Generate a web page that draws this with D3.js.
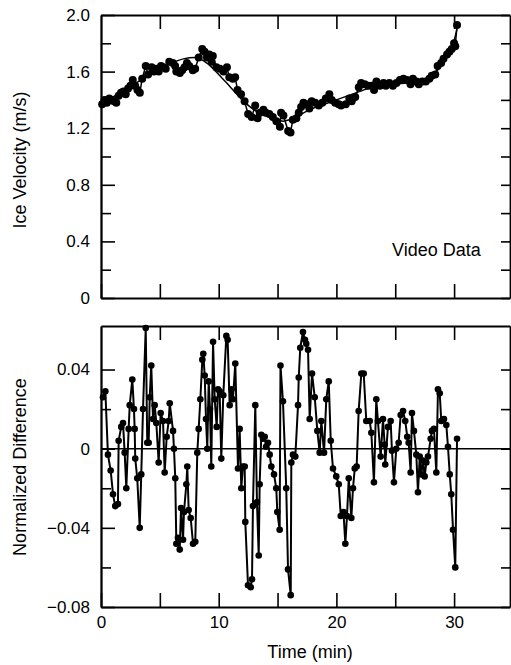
<!DOCTYPE html>
<html>
<head>
<meta charset="utf-8">
<script src="https://cdn.jsdelivr.net/npm/d3@7"></script>
<style>
  html, body { margin: 0; background: #fff; }
  svg { display: block; font-family: "Liberation Sans", Arial, sans-serif; }
</style>
</head>
<body>
<div id="chart"></div>
<script>
// top panel: measured ice velocity (m/s) vs time (min)
const velTime = [0.1, 0.3, 0.5, 0.7, 0.9, 1.1, 1.3, 1.5, 1.7, 1.9, 2.1, 2.3, 2.5, 2.7, 2.9, 3.1, 3.3, 3.5, 3.8, 4.0,
  4.3, 4.5, 4.7, 4.9, 5.1, 5.3, 5.5, 5.8, 6.1, 6.3, 6.4, 6.7, 6.9, 7.1, 7.3, 7.5, 7.8, 8.0, 8.3, 8.6,
  8.8, 9.0, 9.2, 9.4, 9.5, 9.8, 10.1, 10.4, 10.7, 10.9, 11.2, 11.4, 11.6, 11.9, 12.2, 12.5, 12.8, 13.1, 13.3, 13.5,
  13.8, 14.0, 14.3, 14.6, 14.9, 15.2, 15.3, 15.5, 15.9, 16.1, 16.3, 16.6, 16.8, 17.0, 17.2, 17.5, 17.7, 17.9, 18.2, 18.5,
  18.8, 19.1, 19.4, 19.6, 19.9, 20.2, 20.4, 20.8, 21.1, 21.3, 21.6, 21.9, 22.1, 22.4, 22.7, 23.0, 23.2, 23.4, 23.7, 24.0,
  24.2, 24.5, 24.8, 25.1, 25.4, 25.7, 26.0, 26.3, 26.5, 26.8, 27.0, 27.3, 27.6, 27.9, 28.1, 28.4, 28.6, 28.9, 29.1, 29.4,
  29.6, 29.8, 30.0, 30.1, 30.25]
const velValue = [1.37, 1.40, 1.38, 1.41, 1.40, 1.39, 1.38, 1.43, 1.45, 1.46, 1.44, 1.48, 1.50, 1.54, 1.50, 1.47, 1.45, 1.55, 1.64, 1.58,
  1.63, 1.60, 1.62, 1.60, 1.64, 1.63, 1.62, 1.67, 1.66, 1.64, 1.60, 1.59, 1.61, 1.63, 1.66, 1.64, 1.61, 1.62, 1.70, 1.76,
  1.74, 1.70, 1.72, 1.67, 1.71, 1.63, 1.62, 1.60, 1.63, 1.56, 1.55, 1.56, 1.47, 1.44, 1.39, 1.30, 1.28, 1.36, 1.27, 1.31,
  1.33, 1.31, 1.30, 1.28, 1.25, 1.21, 1.31, 1.29, 1.18, 1.17, 1.26, 1.27, 1.31, 1.35, 1.38, 1.37, 1.34, 1.39, 1.38, 1.36,
  1.38, 1.41, 1.44, 1.40, 1.38, 1.37, 1.36, 1.37, 1.41, 1.39, 1.42, 1.49, 1.52, 1.51, 1.50, 1.50, 1.47, 1.53, 1.50, 1.52,
  1.50, 1.52, 1.50, 1.52, 1.54, 1.55, 1.54, 1.51, 1.55, 1.53, 1.51, 1.53, 1.53, 1.55, 1.57, 1.58, 1.64, 1.66, 1.69, 1.72,
  1.74, 1.76, 1.80, 1.78, 1.93]

// smoothed velocity curve
const trendTime = [0, 1, 2, 3, 4, 5, 6, 7, 8, 9, 10, 11, 12, 13, 14, 15, 15.5, 16, 17, 18,
  19, 20, 21, 22, 23, 24, 25, 26, 27, 28, 28.5, 29, 29.5, 30, 30.25]
const trendValue = [1.37, 1.42, 1.47, 1.52, 1.57, 1.62, 1.66, 1.69, 1.70, 1.66, 1.58, 1.49, 1.40, 1.33, 1.29, 1.26, 1.25, 1.26, 1.30, 1.34,
  1.37, 1.40, 1.43, 1.46, 1.49, 1.50, 1.51, 1.52, 1.53, 1.56, 1.60, 1.65, 1.72, 1.82, 1.90]

// bottom panel: normalized difference
const diffTime = [0.17, 0.37, 0.59, 0.82, 1.02, 1.21, 1.44, 1.50, 1.72, 1.87, 2.01, 2.15, 2.35, 2.44, 2.66, 2.80, 2.86, 2.91, 3.08, 3.29,
  3.42, 3.57, 3.80, 3.93, 4.05, 4.14, 4.27, 4.42, 4.56, 4.70, 4.90, 5.07, 5.27, 5.41, 5.58, 5.75, 5.84, 6.12, 6.20, 6.31,
  6.40, 6.54, 6.69, 6.80, 6.97, 7.05, 7.25, 7.33, 7.45, 7.62, 7.82, 8.01, 8.18, 8.30, 8.44, 8.61, 8.69, 8.81, 8.92, 9.03,
  9.15, 9.26, 9.37, 9.52, 9.66, 9.83, 9.94, 10.08, 10.22, 10.39, 10.65, 10.76, 10.93, 11.09, 11.21, 11.41, 11.64, 11.78, 11.92, 12.06,
  12.21, 12.26, 12.49, 12.72, 12.83, 12.91, 13.11, 13.25, 13.40, 13.48, 13.62, 13.76, 13.91, 14.02, 14.19, 14.33, 14.47, 14.70, 14.89, 14.98,
  15.18, 15.25, 15.46, 15.74, 15.89, 16.12, 16.17, 16.31, 16.51, 16.74, 16.80, 16.93, 17.16, 17.33, 17.44, 17.59, 17.73, 17.93, 18.16, 18.38,
  18.58, 18.72, 18.95, 19.14, 19.35, 19.52, 19.71, 19.99, 20.20, 20.37, 20.60, 20.76, 20.90, 21.05, 21.27, 21.41, 21.56, 21.72, 21.89, 22.12,
  22.32, 22.54, 22.83, 22.97, 23.19, 23.39, 23.53, 23.76, 23.96, 24.10, 24.15, 24.38, 24.61, 24.72, 24.89, 25.09, 25.29, 25.46, 25.66, 25.85,
  26.02, 26.14, 26.31, 26.42, 26.59, 26.79, 26.93, 27.08, 27.21, 27.36, 27.50, 27.64, 27.78, 28.01, 28.12, 28.29, 28.49, 28.63, 28.78, 28.91,
  29.14, 29.34, 29.48, 29.63, 29.76, 29.91, 30.10, 30.25]
const diffValue = [0.026, 0.029, -0.003, -0.011, -0.023, -0.029, -0.028, 0.004, 0.011, 0.013, -0.002, -0.020, 0.010, 0.022, 0.035, 0.020, 0.010, -0.005, -0.015, -0.040,
  -0.013, 0.020, 0.061, 0.003, 0.003, 0.026, 0.042, 0.015, 0.022, 0.013, -0.007, 0.018, 0.014, -0.012, 0.006, 0.014, 0.023, 0.009, 0.000, -0.015,
  -0.048, -0.045, -0.051, -0.030, -0.046, -0.032, -0.018, -0.009, -0.031, -0.035, -0.048, -0.047, -0.002, 0.010, 0.025, 0.045, 0.048, 0.037, 0.015, 0.000,
  0.034, 0.020, -0.009, 0.054, 0.025, 0.011, 0.030, 0.029, -0.005, 0.027, 0.057, 0.055, 0.022, 0.030, 0.025, 0.043, -0.010, 0.010, -0.020, -0.009,
  -0.009, -0.037, -0.069, -0.070, -0.066, -0.029, 0.022, -0.027, -0.054, -0.018, 0.007, 0.005, 0.006, 0.001, 0.003, -0.003, -0.009, -0.013, -0.020, -0.032,
  -0.041, 0.042, 0.024, -0.020, -0.061, -0.074, -0.007, -0.003, -0.004, 0.022, 0.036, 0.051, 0.059, 0.055, 0.053, 0.050, 0.015, 0.038, 0.026, 0.009,
  -0.002, 0.014, -0.002, 0.025, 0.034, 0.004, -0.010, -0.014, -0.018, -0.034, -0.032, -0.048, -0.034, -0.015, -0.035, -0.020, -0.010, -0.009, 0.019, 0.038,
  0.038, 0.014, 0.014, 0.008, -0.017, 0.025, 0.014, -0.004, 0.015, 0.002, -0.008, 0.011, 0.014, -0.001, -0.017, 0.000, 0.003, 0.017, 0.019, 0.014,
  0.006, 0.003, -0.012, 0.018, 0.009, -0.003, -0.022, -0.004, -0.013, -0.006, -0.014, -0.007, -0.004, 0.005, 0.009, 0.010, -0.012, 0.030, 0.028, 0.014,
  0.015, 0.012, 0.001, -0.013, -0.023, -0.041, -0.060, 0.005]

const timeTicks = [0, 10, 20, 30]
const timeMinor = [5, 15, 25]
const velTicks = [0, 0.4, 0.8, 1.2, 1.6, 2.0]
const velMinor = [0.2, 0.6, 1.0, 1.4, 1.8]
const diffTicks = [-0.08, -0.04, 0, 0.04]
const diffMinor = [-0.06, -0.02, 0.02]

const width = 511, height = 665
const left = 101, right = 510

const svg = d3.select("#chart").append("svg")
  .attr("width", width)
  .attr("height", height)

const x = d3.scaleLinear().domain([0, 34.75]).range([left, right])
const yVel = d3.scaleLinear().domain([0, 2]).range([298, 15])
const yDiff = d3.scaleLinear().domain([-0.08, 0.062]).range([607, 326])

const fmtVel = d => d === 0 ? "0" : d3.format(".1f")(d)
const fmtDiff = d => d === 0 ? "0" : d3.format(".2f")(d)

function frame(y, major, minor, fmt, showX) {
  const top = y.range()[1], bottom = y.range()[0]
  const g = svg.append("g")
  const style = a => a.attr("font-family", null).attr("font-size", 17)
    .call(s => s.select(".domain").attr("stroke-width", 1.8))
    .call(s => s.selectAll(".tick line").attr("stroke-width", 1.6))

  // left
  g.append("g").attr("transform", `translate(${left},0)`)
    .call(d3.axisLeft(y).tickValues(major).tickFormat(fmt).tickSizeInner(-14).tickSizeOuter(0).tickPadding(11))
    .call(style)
  g.append("g").attr("transform", `translate(${left},0)`)
    .call(d3.axisLeft(y).tickValues(minor).tickFormat("").tickSizeInner(-10).tickSizeOuter(0))
    .call(style)
  // right
  g.append("g").attr("transform", `translate(${right},0)`)
    .call(d3.axisRight(y).tickValues(major.concat(minor)).tickFormat("").tickSizeInner(-9).tickSizeOuter(0))
    .call(style)
  // top
  g.append("g").attr("transform", `translate(0,${top})`)
    .call(d3.axisTop(x).tickValues(timeTicks.concat(timeMinor).filter(d => d > 0)).tickFormat("").tickSizeInner(-14).tickSizeOuter(0))
    .call(style)
  // bottom
  g.append("g").attr("transform", `translate(0,${bottom})`)
    .call(d3.axisBottom(x).tickValues(timeTicks.concat(timeMinor)).tickFormat(showX ? (d => timeTicks.includes(d) ? d : "") : "")
      .tickSizeInner(-14).tickSizeOuter(0).tickPadding(4))
    .call(style)
    .call(s => s.selectAll(".tick text").attr("dy", "1em"))
  return g
}

// top panel
frame(yVel, velTicks, velMinor, fmtVel, false)

svg.append("path")
  .attr("fill", "none")
  .attr("stroke", "#000")
  .attr("stroke-width", 1.5)
  .attr("d", d3.line().curve(d3.curveMonotoneX)
    .x((d, i) => x(trendTime[i])).y(d => yVel(d))(trendValue))

svg.append("path")
  .attr("fill", "none")
  .attr("stroke", "#000")
  .attr("stroke-width", 1.5)
  .attr("d", d3.line().x((d, i) => x(velTime[i])).y(d => yVel(d))(velValue))

svg.append("g").selectAll("circle")
  .data(velValue)
  .join("circle")
  .attr("cx", (d, i) => x(velTime[i]))
  .attr("cy", d => yVel(d))
  .attr("r", 4)
  .attr("fill", "#000")

svg.append("text")
  .attr("x", 392)
  .attr("y", 256)
  .attr("font-size", 18)
  .text("Video Data")

svg.append("text")
  .attr("transform", "translate(26,160) rotate(-90)")
  .attr("text-anchor", "middle")
  .attr("font-size", 18)
  .text("Ice Velocity (m/s)")

// bottom panel
frame(yDiff, diffTicks, diffMinor, fmtDiff, true)

svg.append("line")
  .attr("x1", left).attr("x2", right)
  .attr("y1", yDiff(0)).attr("y2", yDiff(0))
  .attr("stroke", "#000")
  .attr("stroke-width", 1.5)

svg.append("path")
  .attr("fill", "none")
  .attr("stroke", "#000")
  .attr("stroke-width", 2)
  .attr("stroke-linejoin", "round")
  .attr("d", d3.line().x((d, i) => x(diffTime[i])).y(d => yDiff(d))(diffValue))

svg.append("g").selectAll("circle")
  .data(diffValue)
  .join("circle")
  .attr("cx", (d, i) => x(diffTime[i]))
  .attr("cy", d => yDiff(d))
  .attr("r", 3.3)
  .attr("fill", "#000")

svg.append("text")
  .attr("transform", "translate(26,467) rotate(-90)")
  .attr("text-anchor", "middle")
  .attr("font-size", 18)
  .text("Normalized Difference")

svg.append("text")
  .attr("x", 310)
  .attr("y", 658)
  .attr("text-anchor", "middle")
  .attr("font-size", 18)
  .text("Time (min)")
</script>
</body>
</html>
